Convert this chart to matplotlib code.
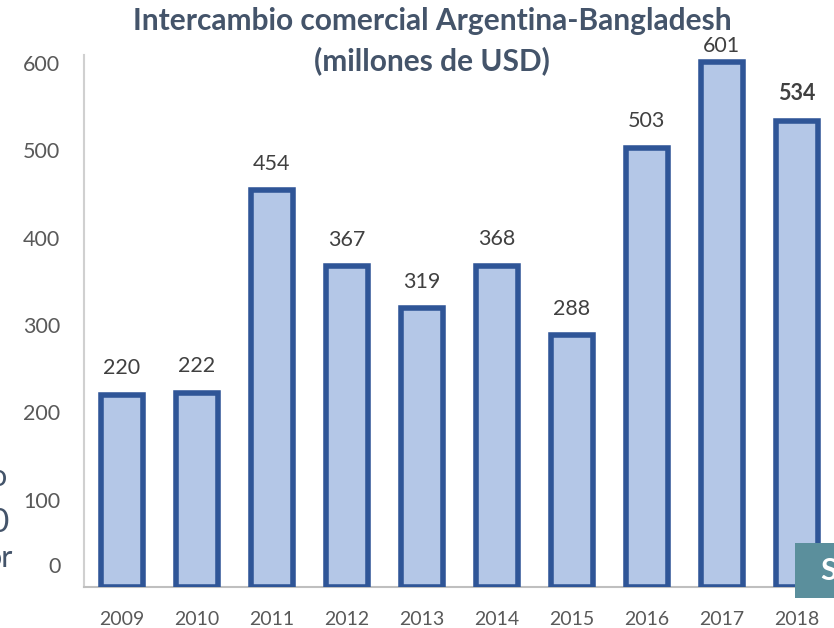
import matplotlib.pyplot as plt
from matplotlib.patches import Rectangle
from matplotlib.transforms import ScaledTranslation

years = ['2009', '2010', '2011', '2012', '2013', '2014', '2015', '2016', '2017', '2018']
values = [220, 222, 454, 367, 319, 368, 288, 503, 601, 534]
yticks = [0, 100, 200, 300, 400, 500, 600]

plt.rcParams['font.family'] = ['Lato', 'DejaVu Sans']

fig = plt.figure(figsize=(8.34, 6.28), dpi=100)
ax = fig.add_axes([0.1007, 0.0653, 0.8993, 0.8471])

x = range(len(years))
ax.bar(x, values, width=0.56, color='#B4C7E7', edgecolor='#2F5597',
       linewidth=4, zorder=3)

# value labels, last one bold; keep the tallest one under the title
for i, v in enumerate(values):
    ax.text(i, min(v + 19, 608), str(v), ha='center', va='bottom', fontsize=15.5,
            color='#404040', fontweight='bold' if i == len(values) - 1 else 'normal')

ax.set_xlim(-0.507, 9.5)
ax.set_ylim(0, 609)
ax.set_xticks(list(x))
ax.set_xticklabels(years)
ax.set_yticks(yticks)
ax.set_yticklabels([str(t) for t in yticks])
ax.tick_params(axis='x', length=0, labelsize=14, colors='#595959', pad=17)
ax.tick_params(axis='y', length=0, labelsize=15.5, colors='#595959', pad=17)

# the zero label sits a bit higher in the original
lab0 = ax.get_yticklabels()[0]
lab0.set_transform(lab0.get_transform() + ScaledTranslation(0, 0.22, fig.dpi_scale_trans))

for s in ['top', 'right']:
    ax.spines[s].set_visible(False)
ax.spines['left'].set_color('#D0D0D0')
ax.spines['left'].set_linewidth(1.5)
ax.spines['bottom'].set_color('#BFBFBF')
ax.spines['bottom'].set_linewidth(1.5)

fig.text(0.518, 0.966, 'Intercambio comercial Argentina-Bangladesh',
         ha='center', va='center', fontsize=21.5, fontweight='bold', color='#44546A')
fig.text(0.518, 0.904, '(millones de USD)',
         ha='center', va='center', fontsize=21.5, fontweight='bold', color='#44546A')

# fragments of the surrounding slide
fig.text(-0.012, 0.24, 'o', fontsize=22, color='#44546A', va='center')
fig.text(-0.012, 0.167, '0', fontsize=24, color='#44546A', va='center')
fig.text(-0.018, 0.112, 'or', fontsize=22, color='#44546A', va='center')
fig.patches.append(Rectangle((0.953, 0.048), 0.05, 0.088, transform=fig.transFigure,
                             facecolor='#5B8F9C', edgecolor='none', zorder=0))
fig.text(0.983, 0.09, 'S', fontsize=22, fontweight='bold', color='white', va='center')

fig.savefig('out.png', dpi=100)
